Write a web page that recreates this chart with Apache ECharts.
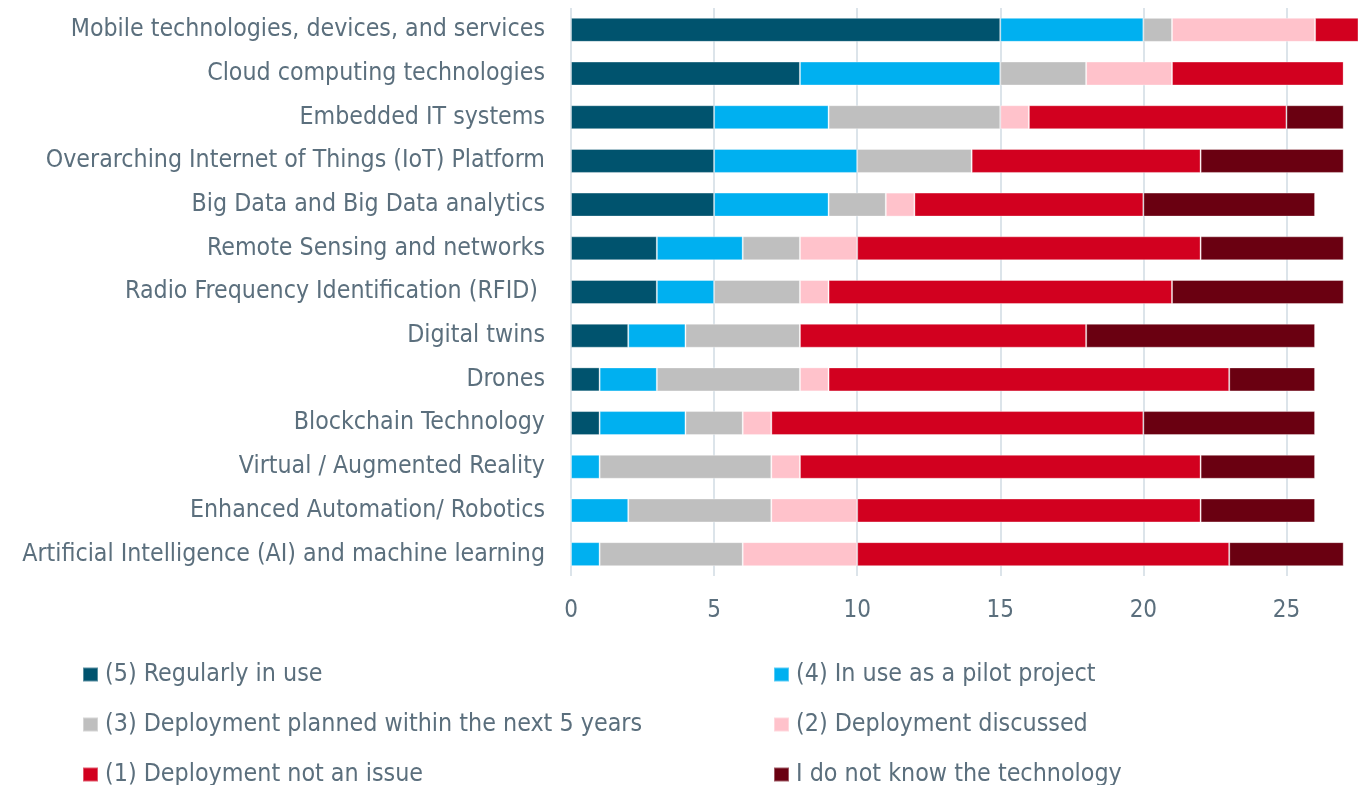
<!DOCTYPE html>
<html><head><meta charset="utf-8">
<script src="https://cdn.jsdelivr.net/npm/echarts@6/dist/echarts.min.js"></script>
<style>html,body{margin:0;padding:0;background:#fff;overflow:hidden}#c{width:1361px;height:785px}</style>
</head><body><div id="c"></div>
<script>
const categories = [
  "Mobile technologies, devices, and services",
  "Cloud computing technologies",
  "Embedded IT systems",
  "Overarching Internet of Things (IoT) Platform",
  "Big Data and Big Data analytics",
  "Remote Sensing and networks",
  "Radio Frequency Identification (RFID) ",
  "Digital twins",
  "Drones",
  "Blockchain Technology",
  "Virtual / Augmented Reality",
  "Enhanced Automation/ Robotics",
  "Artificial Intelligence (AI) and machine learning"
];
const seriesNames = [
  "(5) Regularly in use",
  "(4) In use as a pilot project",
  "(3) Deployment planned within the next 5 years",
  "(2) Deployment discussed",
  "(1) Deployment not an issue",
  "I do not know the technology"
];
const regularly   = [15, 8, 5, 5, 5, 3, 3, 2, 1, 1, 0, 0, 0];
const pilot       = [5, 7, 4, 5, 4, 3, 2, 2, 2, 3, 1, 2, 1];
const planned     = [1, 3, 6, 4, 2, 2, 3, 4, 5, 2, 6, 5, 5];
const discussed   = [5, 3, 1, 0, 1, 2, 1, 0, 1, 1, 1, 3, 4];
const notIssue    = [2, 6, 9, 8, 8, 12, 12, 10, 14, 13, 14, 12, 13];
const dontKnow    = [0, 0, 2, 5, 6, 5, 6, 8, 3, 6, 4, 4, 4];
const xTicks = [0, 5, 10, 15, 20, 25];
const xMax = 27.5; // visible extent of the value axis (the picture is cropped at the right)
const colors = ["#00536e", "#00b0f0", "#bfbfbf", "#ffc2cb", "#d2001f", "#6a0011"];
const values = [regularly, pilot, planned, discussed, notIssue, dontKnow];

const textColor = "#5b6f7d";
const font = "'DejaVu Sans Condensed', 'Liberation Sans Narrow', sans-serif";

const chart = echarts.init(document.getElementById('c'));
const legendPos = [[77, 657], [768, 657], [77, 707], [768, 707], [77, 757], [768, 757]];
chart.setOption({
  animation: false,
  textStyle: { fontFamily: font },
  grid: { left: 571, right: 0, top: 8, bottom: 209, containLabel: false },
  xAxis: {
    type: 'value', min: xTicks[0], max: xMax, interval: 5,
    axisLine: { show: false }, axisTick: { show: false },
    splitLine: { show: true, showMaxLine: false, lineStyle: { color: '#dce4ea', width: 2 } },
    axisLabel: {
      color: textColor, fontSize: 24, fontFamily: font, margin: 23,
      formatter: v => (xTicks.indexOf(v) >= 0 ? String(v) : '')
    }
  },
  yAxis: {
    type: 'category', inverse: true, data: categories,
    axisLine: { show: false }, axisTick: { show: false },
    axisLabel: { color: textColor, fontSize: 24.7, fontFamily: font, margin: 26 }
  },
  legend: legendPos.map((p, i) => ({
    data: [seriesNames[i]], left: p[0], top: p[1], itemWidth: 15, itemHeight: 14,
    icon: 'rect', itemGap: 6,
    textStyle: { color: textColor, fontSize: 24.8, fontFamily: font, padding: [0, 0, 0, 2] }
  })),
  series: seriesNames.map((n, i) => ({
    name: n, type: 'bar', stack: 'total', data: values[i], barWidth: 24,
    itemStyle: { color: colors[i], borderColor: 'rgba(255,255,255,0.35)', borderWidth: 1 }
  }))
});
</script></body></html>
